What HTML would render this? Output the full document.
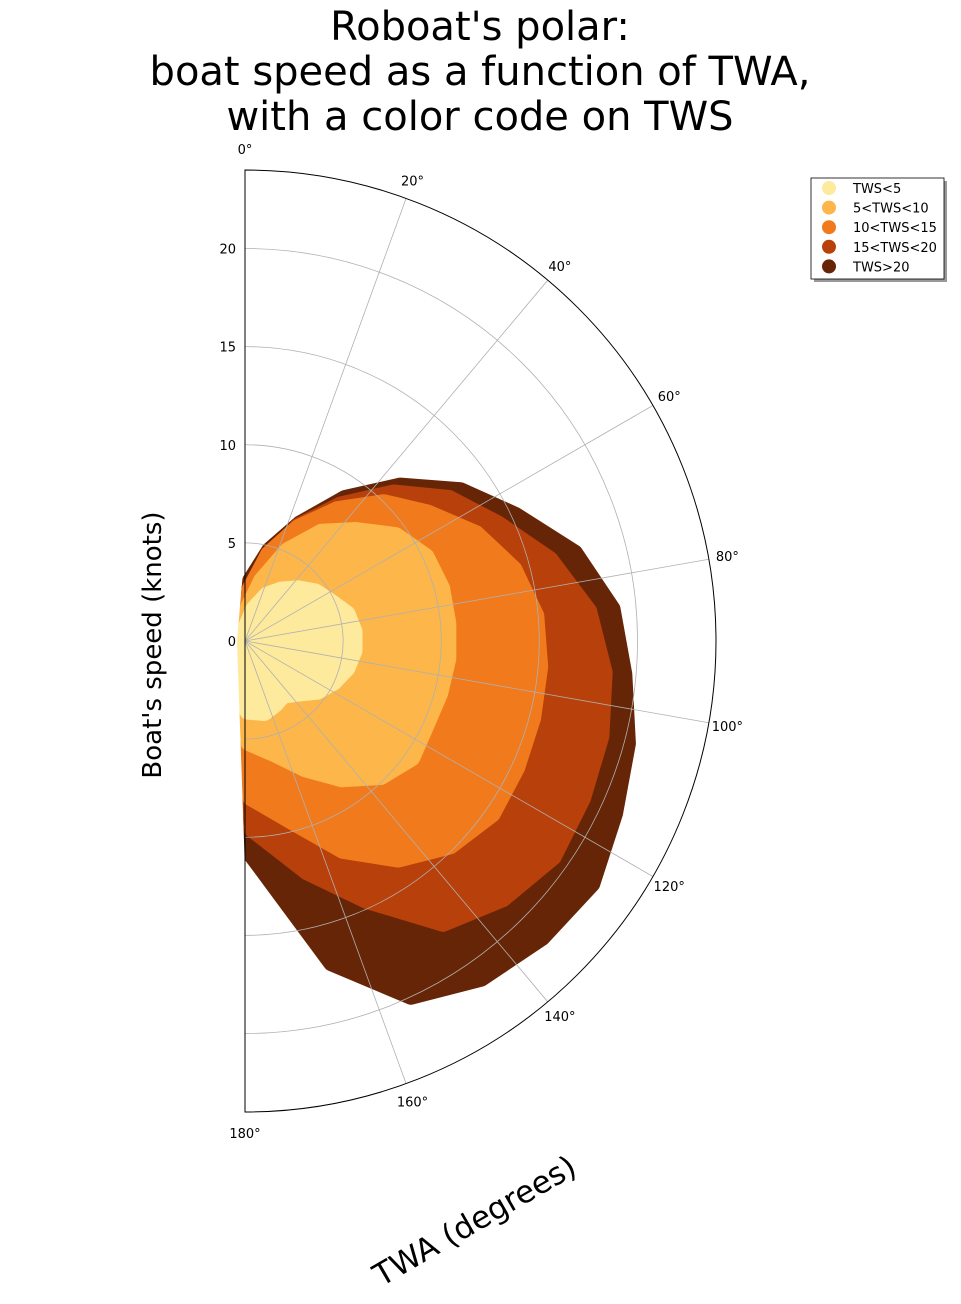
<!DOCTYPE html>
<html><head><meta charset="utf-8">
<style>
body{margin:0;background:#fff;}
svg{display:block;font-family:"DejaVu Sans","Liberation Sans",sans-serif;}
</style></head>
<body>
<svg id="chart" width="961" height="1304" viewBox="0 0 961 1304">
  <g font-size="40" text-anchor="middle" fill="#000">
    <text x="480" y="40">Roboat's polar:</text>
    <text x="480" y="85">boat speed as a function of TWA,</text>
    <text x="480" y="130">with a color code on TWS</text>
  </g>
  <g id="bands"></g>
  <g id="grid"></g>
  <g id="labels" font-size="13" fill="#000"></g>
  <text x="161" y="645" font-size="26" text-anchor="middle" transform="rotate(-90 161 645)">Boat's speed (knots)</text>
  <text x="480" y="1230" font-size="31" text-anchor="middle" transform="rotate(-30 480 1230)">TWA (degrees)</text>
  <g>
    <rect x="814" y="181" width="133" height="101" fill="#999"/>
    <rect x="811" y="178" width="133" height="101" fill="#fff" stroke="#000" stroke-width="0.8"/>
    <g id="legend-items" font-size="13"></g>
  </g>
</svg>
<script>
const cats = ['TWS<5','5<TWS<10','10<TWS<15','15<TWS<20','TWS>20'];
const colors = ['#feea9c','#fdb64a','#f07a1c','#b8400a','#662506'];
const twa = [5,15,25,35,45,55,65,75,85,95,105,115,125,135,145,155,165,178];
const hiPale = [0.8,1.7,2.6,3.2,3.8,4.4,4.8,5.4,5.6,5.6,5.4,5.0,4.5,3.8,3.4,3.6,3.8,3.6];
const hi5 = [1.7,3.2,5.1,6.8,8.0,9.4,10.2,10.4,10.4,10.4,10.3,10.2,10.4,9.8,8.6,7.2,6.0,5.2];
const hi10 = [2.6,4.6,6.4,8.2,10.0,11.4,13.0,14.2,14.9,15.1,15.2,15.3,15.4,14.8,13.6,11.8,9.6,8.0];
const hi15 = [2.7,4.5,6.5,8.5,10.7,12.7,14.2,16.1,17.6,18.4,18.8,19.0,19.2,18.6,17.6,14.6,12.2,9.6];
const lo20 = [2.4,4.2,6.2,8.2,10.4,12.4,14.0,15.8,17.4,18.4,18.8,18.8,18.6,18.0,16.8,14.0,11.6,9.0];
const hi20 = [3.1,4.8,6.6,8.9,11.2,13.4,15.2,17.4,18.8,19.4,20.2,20.8,21.6,21.4,21.0,20.0,17.0,11.0];
const series = [[hiPale.map(()=>0),hiPale],[hiPale,hi5],[hi5,hi10],[hi10,hi15],[lo20,hi20]];
const rTicks = [0,5,10,15,20];
const aTicks = [0,20,40,60,80,100,120,140,160,180];

const NS='http://www.w3.org/2000/svg';
const cx=245, cy=641, R=471, rMax=24;
function rs(v){return v/rMax*R;}
function px(a,v){return cx+rs(v)*Math.sin(a*Math.PI/180);}
function py(a,v){return cy-rs(v)*Math.cos(a*Math.PI/180);}
function mk(t,attrs,parent){const e=document.createElementNS(NS,t);for(const k in attrs)e.setAttribute(k,attrs[k]);parent.appendChild(e);return e;}

const bands=document.getElementById('bands');
for(let c=series.length-1;c>=0;c--){
  const [lo,hi]=series[c];
  let pts=[];
  for(let i=0;i<twa.length;i++)pts.push(px(twa[i],hi[i]).toFixed(1)+','+py(twa[i],hi[i]).toFixed(1));
  for(let i=twa.length-1;i>=0;i--)pts.push(px(twa[i],lo[i]).toFixed(1)+','+py(twa[i],lo[i]).toFixed(1));
  const p=mk('polygon',{points:pts.join(' '),fill:colors[c],stroke:colors[c],'stroke-width':16,'stroke-linejoin':'round'},bands);
  
  
}
const grid=document.getElementById('grid');
for(const v of rTicks){ if(v===0)continue;
  const g=mk('path',{d:`M${cx},${cy-rs(v)} A${rs(v)},${rs(v)} 0 0 1 ${cx},${cy+rs(v)}`,fill:'none',stroke:'#b0b0b0','stroke-width':0.8},grid);
  
  
}
for(const a of aTicks){ if(a===0||a===180)continue;
  const g=mk('line',{x1:cx,y1:cy,x2:px(a,rMax),y2:py(a,rMax),stroke:'#b0b0b0','stroke-width':0.8},grid);
  
  
}
const sp=mk('path',{d:`M${cx},${cy-R} A${R},${R} 0 0 1 ${cx},${cy+R} Z`,fill:'none',stroke:'#000','stroke-width':1},grid);



const labels=document.getElementById('labels');
for(const v of rTicks){
  const t=mk('text',{x:236,y:py(0,v)+5,'text-anchor':'end'},labels);t.textContent=v;
  
  
}
for(const a of aTicks){
  const rr=rMax*1.04;
  let x=px(a,rr), y=py(a,rr)+5;
  if(a===0)y-=2; if(a===180)y+=2;
  const t=mk('text',{x:x,y:y,'text-anchor':'middle'},labels);t.textContent=a+'°';
  
  
}
const li=document.getElementById('legend-items');
cats.forEach((c,i)=>{
  const y=188+i*19.6;
  const d=mk('circle',{cx:829,cy:y,r:7,fill:colors[i]},li);
  
  
  const t=mk('text',{x:853,y:y+5},li);t.textContent=c;
  
  
});
</script>
</body></html>
